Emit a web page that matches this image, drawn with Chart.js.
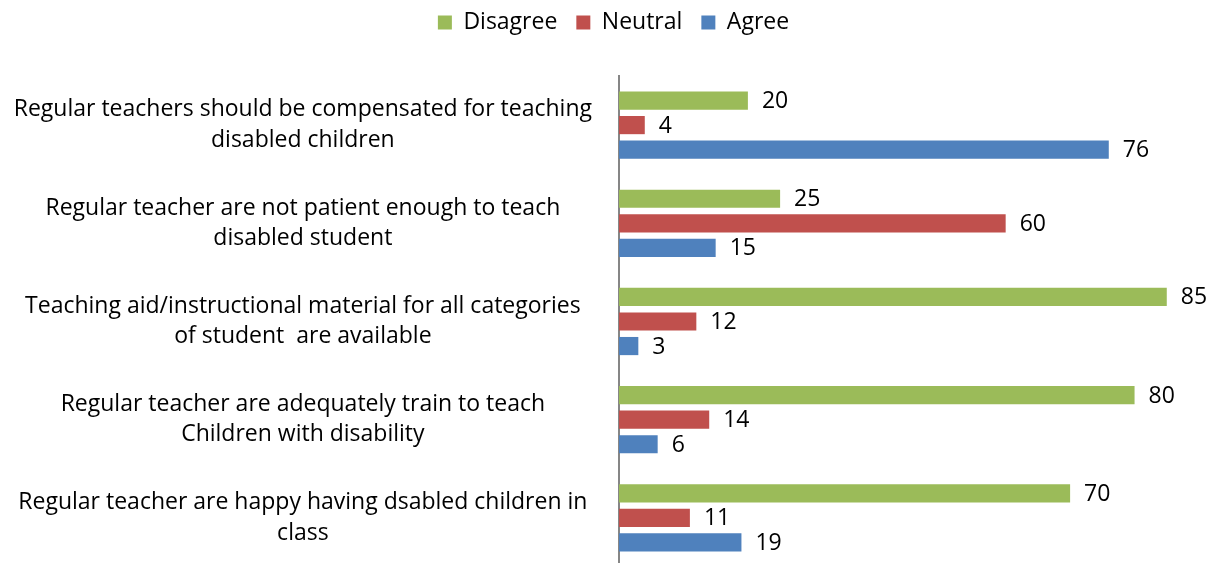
<!DOCTYPE html>
<html><head><meta charset="utf-8">
<script src="https://cdn.jsdelivr.net/npm/chart.js@4"></script>
<style>html,body{margin:0;padding:0;background:#fff;overflow:hidden;width:1212px;height:563px}</style>
</head><body><canvas id="c" width="1212" height="575"></canvas>
<script>
const categories = [
  ["Regular teachers should be compensated for teaching", "disabled children"],
  ["Regular teacher are not patient enough to teach", "disabled student"],
  ["Teaching aid/instructional material for all categories", "of student  are available"],
  ["Regular teacher are adequately train to teach", "Children with disability"],
  ["Regular teacher are happy having dsabled children in", "class"]
];
const seriesNames = ["Disagree", "Neutral", "Agree"];
const disagree = [20, 25, 85, 80, 70];
const neutral = [4, 60, 12, 14, 11];
const agree = [76, 15, 3, 6, 19];
const colors = ["#9BBB59", "#C0504D", "#4F81BD"];
const FONT = "Open Sans";
const FS = 23;
const PAD_TOP = -8;
const PLOT_TOP = 76;
const AXIS_X = 619;
const LEGEND_SHIFT = 14;

const valueLabels = {
  id: 'valueLabels',
  beforeUpdate(chart) {
    const lg = chart.legend;
    if (lg && !lg._patched) {
      const orig = lg.fit;
      lg.fit = function () { orig.call(this); this.height = PLOT_TOP - PAD_TOP; };
      lg._patched = true;
    }
  },
  afterLayout(chart) {
    const lg = chart.legend;
    if (lg) { lg.left += LEGEND_SHIFT; lg.right += LEGEND_SHIFT; }
  },
  afterDatasetsDraw(chart) {
    const ctx = chart.ctx;
    ctx.save();
    ctx.font = FS + "px '" + FONT + "'";
    ctx.fillStyle = "#000";
    ctx.textAlign = "left";
    ctx.textBaseline = "middle";
    chart.data.datasets.forEach((ds, i) => {
      chart.getDatasetMeta(i).data.forEach((bar, j) => {
        ctx.fillText(String(ds.data[j]), bar.x + 14, bar.y + 1);
      });
    });
    ctx.restore();
  }
};

new Chart(document.getElementById('c'), {
  type: 'bar',
  data: {
    labels: categories,
    datasets: [
      { label: seriesNames[0], data: disagree, backgroundColor: colors[0] },
      { label: seriesNames[1], data: neutral, backgroundColor: colors[1] },
      { label: seriesNames[2], data: agree, backgroundColor: colors[2] }
    ]
  },
  options: {
    indexAxis: 'y',
    responsive: false,
    animation: false,
    categoryPercentage: 0.75,
    barPercentage: 0.74,
    layout: { padding: { top: PAD_TOP, right: 13, bottom: 8, left: 0 } },
    plugins: {
      legend: {
        position: 'top',
        labels: { font: { family: FONT, size: 23 }, color: '#000', boxWidth: 14, boxHeight: 14, padding: 19 }
      },
      tooltip: { enabled: false }
    },
    scales: {
      x: { display: false, min: 0, max: 90 },
      y: {
        grid: { display: false, drawTicks: false },
        border: { display: true, color: '#868686', width: 2 },
        ticks: { font: { family: FONT, size: FS, lineHeight: 1.32 }, color: '#000', crossAlign: 'center', padding: 27 },
        afterFit(scale) { scale.paddingTop = 0; scale.paddingBottom = 0; scale.width = AXIS_X; }
      }
    }
  },
  plugins: [valueLabels]
});
</script></body></html>
